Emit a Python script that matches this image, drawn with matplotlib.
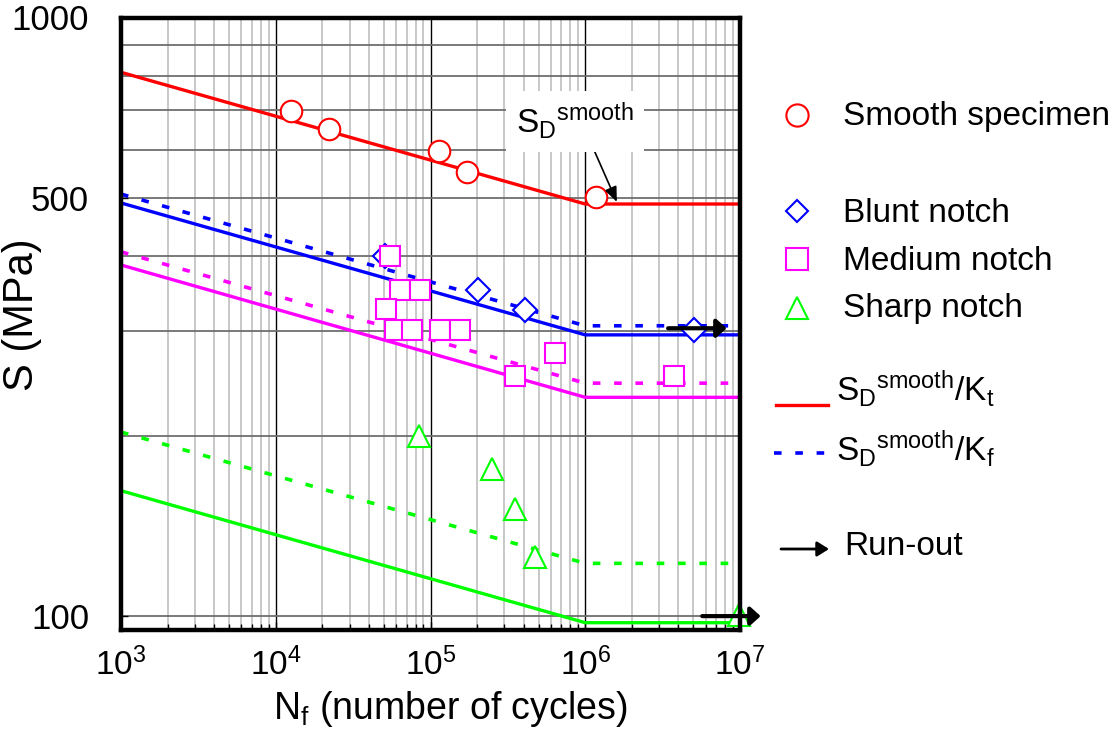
import matplotlib
matplotlib.use('Agg')
import matplotlib.pyplot as plt
from matplotlib.lines import Line2D
from matplotlib.patches import FancyArrowPatch
from matplotlib.ticker import FixedLocator, NullFormatter, LogLocator, FixedFormatter

plt.rcParams['font.family'] = ['Liberation Sans', 'DejaVu Sans']
plt.rcParams['mathtext.fontset'] = 'custom'
plt.rcParams['mathtext.rm'] = 'Liberation Sans'
plt.rcParams['mathtext.it'] = 'Liberation Sans:italic'
plt.rcParams['mathtext.bf'] = 'Liberation Sans:bold'

# ---------------- data ----------------
N_line = [1e3, 1e6, 1e7]
S_smooth_line = [810, 488, 488]
S_blunt_kt = [490, 295, 295]
S_blunt_kf = [507, 305.5, 305.5]
S_medium_kt = [386, 232, 232]
S_medium_kf = [406, 245, 245]
S_sharp_kt = [162, 97.5, 97.5]
S_sharp_kf = [203, 122.5, 122.5]

smooth_N = [1.26e4, 2.21e4, 1.13e5, 1.73e5, 1.17e6]
smooth_S = [698, 651, 599, 552, 501]
blunt_N = [5.1e4, 2.02e5, 4.08e5, 5.05e6]
blunt_S = [400, 350, 325, 301]
medium_N = [5.46e4, 6.34e4, 8.59e4, 5.18e4, 5.89e4, 7.59e4, 1.15e5, 1.56e5, 3.53e5, 6.34e5, 3.77e6]
medium_S = [400, 351, 351, 326, 301, 301, 301, 301, 252, 275, 252]
sharp_N = [8.41e4, 2.5e5, 3.53e5, 4.73e5, 9.86e6]
sharp_S = [200, 176, 151, 125.5, 100.6]

runout_N_start = [3.43e6, 5.7e6]
runout_N_end = [8.2e6, 1.36e7]
runout_S = [302.6, 100]

x_ticks = [1e3, 1e4, 1e5, 1e6, 1e7]
x_ticklabels = [r'$\mathregular{10^{3}}$', r'$\mathregular{10^{4}}$', r'$\mathregular{10^{5}}$',
                r'$\mathregular{10^{6}}$', r'$\mathregular{10^{7}}$']
y_ticks = [100, 500, 1000]
y_ticklabels = ['100', '500', '1000']
y_grid_minor = [200, 300, 400, 600, 700, 800, 900]

RED, BLUE, MAG, GRN = '#FF0000', '#0000FF', '#FF00FF', '#00FF00'

# ---------------- figure ----------------
W, H = 1120, 738
fig = plt.figure(figsize=(W / 100, H / 100), dpi=100)
ax = fig.add_axes([121 / W, 1 - 630 / H, (740 - 121) / W, (630 - 17.5) / H])
ax.set_xscale('log')
ax.set_yscale('log')
ax.set_xlim(1e3, 1e7)
ax.set_ylim(94.8, 1000)
ax.set_axisbelow(True)

ax.xaxis.set_major_locator(FixedLocator(x_ticks))
ax.xaxis.set_major_formatter(FixedFormatter(x_ticklabels))
ax.xaxis.set_minor_locator(LogLocator(base=10, subs=range(2, 10)))
ax.xaxis.set_minor_formatter(NullFormatter())
ax.yaxis.set_major_locator(FixedLocator(y_ticks))
ax.yaxis.set_major_formatter(FixedFormatter(y_ticklabels))
ax.yaxis.set_minor_locator(FixedLocator(y_grid_minor))
ax.yaxis.set_minor_formatter(NullFormatter())

ax.grid(True, which='minor', axis='x', color='#c4c4c4', lw=1.3)
ax.grid(True, which='major', axis='x', color='black', lw=1.0)
ax.grid(True, which='both', axis='y', color='#6e6e6e', lw=1.3)

ax.tick_params(axis='both', which='both', direction='in', top=False, right=False,
               color='black', width=1)
ax.tick_params(axis='x', which='major', length=6, labelsize=24, pad=13)
ax.tick_params(axis='x', which='minor', length=4)
ax.tick_params(axis='y', which='major', length=5, labelsize=25, pad=23)
ax.tick_params(axis='y', which='minor', length=0)

for sp in ax.spines.values():
    sp.set_linewidth(3.2)
    sp.set_zorder(6)


def fx(x):
    return x / W


def fy(y):
    return 1 - y / H


fig.text(fx(450), fy(719), r'$\mathregular{N_f}$ (number of cycles)', fontsize=27,
         ha='center', va='baseline')
fig.text(fx(22), fy(315), 'S (MPa)', fontsize=30, rotation=90, ha='center', va='center')

# S-N lines
LW_S, LW_D = 2.4, 2.6
DASH = (2.1, 3.8)
ax.plot(N_line, S_smooth_line, color=RED, lw=LW_S, zorder=2)
ax.plot(N_line, S_blunt_kt, color=BLUE, lw=LW_S, zorder=2)
ax.plot(N_line, S_blunt_kf, color=BLUE, lw=LW_D, dashes=DASH, zorder=2)
ax.plot(N_line, S_medium_kt, color=MAG, lw=LW_S, zorder=2)
ax.plot(N_line, S_medium_kf, color=MAG, lw=LW_D, dashes=DASH, zorder=2)
ax.plot(N_line, S_sharp_kt, color=GRN, lw=LW_S, zorder=2)
ax.plot(N_line, S_sharp_kf, color=GRN, lw=LW_D, dashes=DASH, zorder=2)

# data points
mk = dict(ls='none', mfc='white', mew=1.5, zorder=3, clip_on=False)
ax.plot(smooth_N, smooth_S, marker='o', ms=15.5, mec=RED, **mk)
ax.plot(blunt_N, blunt_S, marker='D', ms=12.5, mec=BLUE, **mk)
ax.plot(medium_N, medium_S, marker='s', ms=15, mec=MAG, **mk)
ax.plot(sharp_N, sharp_S, marker='^', ms=15.5, mec=GRN, **mk)

# run-out arrows
for n0, n1, s in zip(runout_N_start, runout_N_end, runout_S):
    ax.annotate('', xy=(n1, s), xytext=(n0, s), annotation_clip=False,
                arrowprops=dict(arrowstyle='-|>,head_length=0.3,head_width=0.27',
                                mutation_scale=20, lw=3, color='black',
                                shrinkA=0, shrinkB=0, clip_on=False),
                zorder=4)

# S_D smooth annotation
ax.annotate('', xy=(1.6e6, 492), xytext=(1.094e6, 615),
            arrowprops=dict(arrowstyle='-|>,head_length=0.6,head_width=0.25',
                            mutation_scale=15, lw=1.2, color='black',
                            shrinkA=0, shrinkB=0), zorder=4)
ax.text(3.59e5, 641, r'$\mathregular{S_D{}^{smooth}}$', fontsize=24, ha='left', va='baseline',
        bbox=dict(boxstyle='square,pad=0.3', fc='white', ec='none'), zorder=5)

# ---------------- legend (manual) ----------------
leg_mk = dict(ls='none', mfc='white', mew=1.5, transform=fig.transFigure)
fig.add_artist(Line2D([fx(797)], [fy(115)], marker='o', ms=16, mec=RED, **leg_mk))
fig.add_artist(Line2D([fx(797)], [fy(211)], marker='D', ms=11.5, mec=BLUE, **leg_mk))
fig.add_artist(Line2D([fx(797)], [fy(259)], marker='s', ms=15.5, mec=MAG, **leg_mk))
fig.add_artist(Line2D([fx(797)], [fy(308)], marker='^', ms=16, mec=GRN, **leg_mk))

LEG_FS = 24
fig.text(fx(843), fy(125), 'Smooth specimen', fontsize=LEG_FS, va='baseline')
fig.text(fx(843), fy(221.7), 'Blunt notch', fontsize=LEG_FS, va='baseline')
fig.text(fx(843), fy(270), 'Medium notch', fontsize=LEG_FS, va='baseline')
fig.text(fx(843), fy(317.3), 'Sharp notch', fontsize=LEG_FS, va='baseline')

fig.add_artist(Line2D([fx(776), fx(828)], [fy(405), fy(405)], color=RED, lw=LW_S,
                      transform=fig.transFigure))
fig.add_artist(Line2D([fx(774), fx(826)], [fy(452.7), fy(452.7)], color=BLUE, lw=LW_D,
                      dashes=DASH, transform=fig.transFigure))
fig.text(fx(836), fy(401.7), r'$\mathregular{S_D{}^{smooth}/K_t}$', fontsize=LEG_FS, va='baseline')
fig.text(fx(836), fy(461.7), r'$\mathregular{S_D{}^{smooth}/K_f}$', fontsize=LEG_FS, va='baseline')

fig.add_artist(FancyArrowPatch((fx(781), fy(549)), (fx(829), fy(549)),
                               transform=fig.transFigure,
                               arrowstyle='-|>,head_length=0.35,head_width=0.22',
                               mutation_scale=20, lw=2, color='black',
                               shrinkA=0, shrinkB=0))
fig.text(fx(844), fy(555), 'Run-out', fontsize=LEG_FS, va='baseline')

fig.savefig('out.png', dpi=100)
